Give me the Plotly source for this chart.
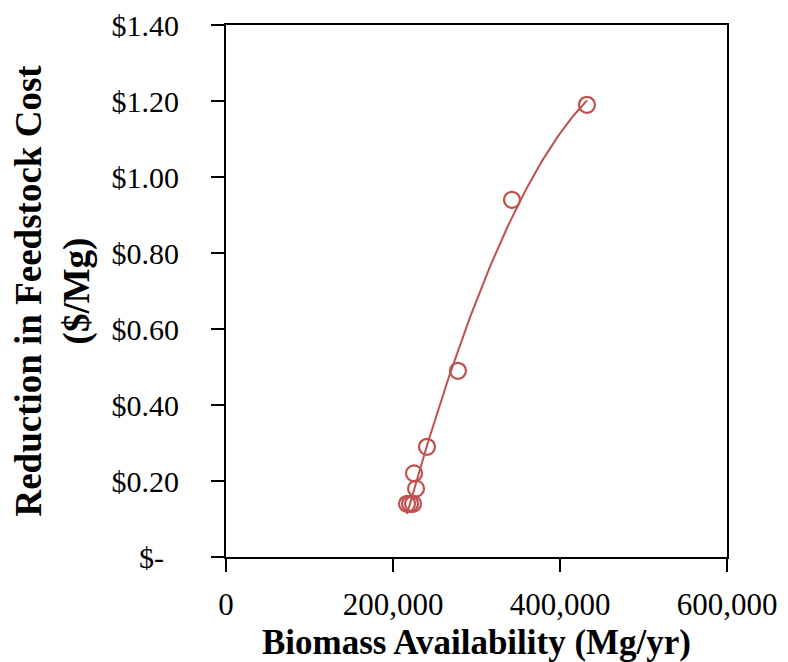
import numpy as np
import plotly.graph_objects as go

# Data
biomass_mg_yr = [216800, 220400, 224000, 225200, 227600, 240700, 277800, 342500, 432300]
cost_reduction = [0.14, 0.14, 0.14, 0.22, 0.18, 0.29, 0.49, 0.94, 1.19]

x_ticks = [0, 200000, 400000, 600000]
x_tick_labels = ["0", "200,000", "400,000", "600,000"]
y_ticks = [0, 0.2, 0.4, 0.6, 0.8, 1.0, 1.2, 1.4]
y_tick_labels = ["$-\u00a0\u00a0", "$0.20", "$0.40", "$0.60", "$0.80", "$1.00", "$1.20", "$1.40"]

RED = "#C0504D"
FONT = "Liberation Serif"

# Polynomial (order 2) trendline, as a spreadsheet would compute it
coef = np.polyfit(biomass_mg_yr, cost_reduction, 2)
trend_x = np.linspace(min(biomass_mg_yr), max(biomass_mg_yr), 100)
trend_y = np.polyval(coef, trend_x)

fig = go.Figure()
fig.add_trace(go.Scatter(x=trend_x, y=trend_y, mode="lines",
                         line=dict(color=RED, width=2), hoverinfo="skip",
                         showlegend=False))
fig.add_trace(go.Scatter(x=biomass_mg_yr, y=cost_reduction, mode="markers",
                         marker=dict(symbol="circle-open", size=16,
                                     color=RED, line=dict(color=RED, width=2.2)),
                         showlegend=False))

fig.update_layout(
    width=780, height=654,
    margin=dict(l=218, r=61, t=17, b=105),
    paper_bgcolor="white", plot_bgcolor="white",
    font=dict(family=FONT, color="black"),
    xaxis=dict(range=[0, 600000], tickvals=x_ticks, ticktext=x_tick_labels,
               automargin=False, ticklabeloverflow="allow",
               showgrid=False, zeroline=False, showline=True, mirror=True,
               linecolor="black", linewidth=2, ticks="outside", ticklen=13,
               tickwidth=2, tickcolor="black", tickfont=dict(size=31, color="black"),
               ticklabelstandoff=6,
               title=dict(text="<b>Biomass Availability (Mg/yr)</b>",
                          font=dict(size=35), standoff=8)),
    yaxis=dict(range=[0, 1.4], tickvals=y_ticks, ticktext=y_tick_labels,
               automargin=False, ticklabeloverflow="allow",
               showgrid=False, zeroline=False, showline=True, mirror=True,
               linecolor="black", linewidth=2, ticks="outside", ticklen=13,
               tickwidth=2, tickcolor="black", tickfont=dict(size=30, color="black"),
               ticklabelstandoff=26,
               title=dict(text="<b>Reduction in Feedstock Cost<br>($/Mg)</b>",
                          font=dict(size=37), standoff=16)),
)

fig.write_html("out.html")
